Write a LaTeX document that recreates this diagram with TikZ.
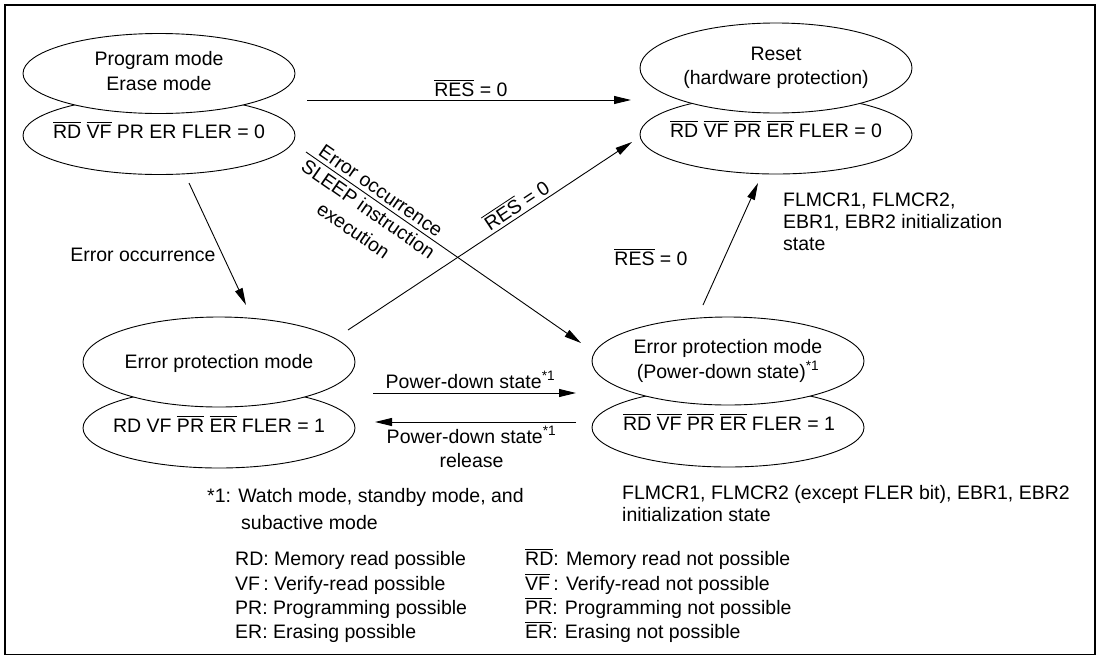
\documentclass[tikz,border=0pt]{standalone}
\usepackage{fontspec}
\setmainfont{Liberation Sans}
\usetikzlibrary{shapes.geometric,arrows.meta}
\newcommand\ovl[1]{\vbox{\hrule height 0.8pt\kern 2.2pt\hbox{#1}}}
\newcommand\supone{\textsuperscript{*1}}
\begin{document}
\begin{tikzpicture}[x=1pt,y=-1pt,
  every node/.style={font=\fontsize{19.5}{24.5}\selectfont},
  ell/.style={draw, ellipse, line width=0.9pt, minimum width=272pt, inner sep=0pt, fill=white},
  arr/.style={line width=0.9pt, -{Triangle[length=17pt,width=8pt]}},
  txt/.style={inner sep=0pt, align=center},
  lab/.style={inner sep=3pt},
  note/.style={anchor=base west, inner sep=0pt},
]
\useasboundingbox (0,0) rectangle (1097,656);
\draw[line width=1.8pt] (5,5) rectangle (1095,654.5);

% top-left state
\node[ell, minimum height=78pt] (tlL) at (159,135.5) {};
\node[ell, minimum height=80pt] (tlU) at (159,73.5) {};
\node[txt] (tlUt) at (159,71) {Program mode\\Erase mode};
\node[txt] (tlLt) at (159,130.5) {\ovl{RD} \ovl{VF} PR ER FLER = 0};

% reset state
\node[ell, minimum height=79pt] (rsL) at (776,134.5) {};
\node[ell, minimum height=90pt] (rsU) at (776,68) {};
\node[txt] (rsUt) at (776,68) {Reset\\(hardware protection)};
\node[txt] (rsLt) at (776,129) {\ovl{RD} \ovl{VF} \ovl{PR} \ovl{ER} FLER = 0};

% bottom-left state
\node[ell, minimum height=80pt] (blL) at (219,428) {};
\node[ell, minimum height=90pt] (blU) at (219,362) {};
\node[txt] (blUt) at (219,363) {Error protection mode};
\node[txt] (blLt) at (219,424.5) {RD VF \ovl{PR} \ovl{ER} FLER = 1};

% bottom-right state
\node[ell, minimum height=79pt] (brL) at (728,427.5) {};
\node[ell, minimum height=88pt] (brU) at (728,361) {};
\node[txt] (brUt) at (728,361) {Error protection mode\\(Power-down state)\supone};
\node[txt] (brLt) at (729,422.5) {\ovl{RD} \ovl{VF} \ovl{PR} \ovl{ER} FLER = 1};

% connector end points
\coordinate (a1) at (307,100);  \coordinate (a2) at (631,100);
\coordinate (b1) at (189,183);  \coordinate (b2) at (246,305);
\coordinate (c1) at (306,152);  \coordinate (c2) at (581,343);
\coordinate (d1) at (348,330);  \coordinate (d2) at (632,142);
\coordinate (e1) at (373,393);  \coordinate (e2) at (576,393);
\coordinate (f1) at (576,422);  \coordinate (f2) at (375,422);
\coordinate (g1) at (703,305);  \coordinate (g2) at (758,183);

\draw[arr] (a1) -- node[lab, above, pos=0.506] (la) {\ovl{RES} = 0} (a2);
\draw[arr] (b1) -- (b2);
\node (lb) at (143,255) {Error occurrence};
\draw[arr] (c1) -- node[lab, sloped, above, pos=0.25, inner sep=3.5pt] (lc1) {Error occurrence}
                   node[lab, sloped, below, pos=0.25, align=center, inner sep=3.5pt, font=\fontsize{19.5}{26}\selectfont] (lc2) {SLEEP instruction\\execution} (c2);
\draw[arr] (d1) -- node[lab, sloped, above, pos=0.615] (ld) {\ovl{RES} = 0} (d2);
\draw[arr] (e1) -- node[lab, above, pos=0.48, inner sep=4pt] (le) {Power-down state\supone} (e2);
\draw[arr] (f1) -- node[lab, below, pos=0.52, align=center, inner sep=4pt] (lf) {Power-down state\supone\\release} (f2);
\draw[arr] (g1) -- (g2);
\node (lg) at (651,257) {\ovl{RES} = 0};

% notes
\node[note] (n1) at (783,206) {FLMCR1, FLMCR2,};
\node[note] (n2) at (783,228) {EBR1, EBR2 initialization};
\node[note] (n3) at (783,250) {state};
\node[note] (n4) at (622,499) {FLMCR1, FLMCR2 (except FLER bit), EBR1, EBR2};
\node[note] (n5) at (622,521) {initialization state};
\node[note] (n6) at (207,502) {*1: Watch mode, standby mode, and};
\node[note] (n7) at (241,529) {subactive mode};

% legend
\node[note] (k1) at (235,565) {RD: Memory read possible};
\node[note] (k2) at (235,590) {VF\,: Verify-read possible};
\node[note] (k3) at (235,614) {PR: Programming possible};
\node[note] (k4) at (235,638) {ER: Erasing possible};
\node[note] (m1) at (525,565) {\ovl{RD}: Memory read not possible};
\node[note] (m2) at (525,590) {\ovl{VF}\,: Verify-read not possible};
\node[note] (m3) at (525,614) {\ovl{PR}: Programming not possible};
\node[note] (m4) at (525,638) {\ovl{ER}: Erasing not possible};
\end{tikzpicture}
\end{document}
